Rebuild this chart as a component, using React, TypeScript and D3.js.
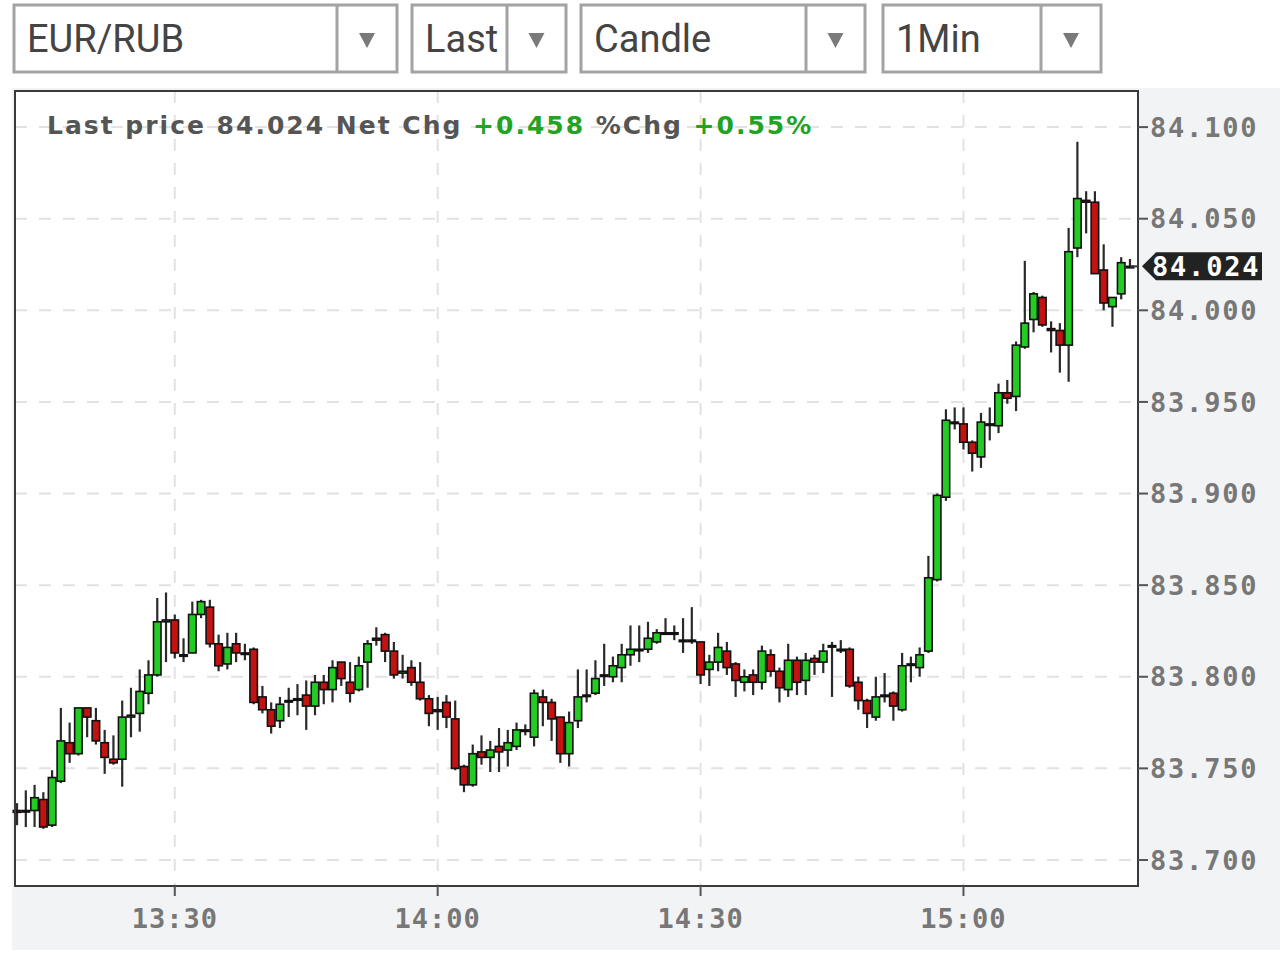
import React from "react";
import * as d3 from "d3";

// 1-minute EUR/RUB candles, first one at 13:12
const START = new Date(2024, 0, 1, 13, 12);

const opens = [
  83.727, 83.727, 83.727, 83.733, 83.719, 83.743, 83.764, 83.758, 83.783, 83.776,
  83.764, 83.755, 83.755, 83.778, 83.780, 83.791, 83.801, 83.830, 83.831, 83.812,
  83.813, 83.834, 83.838, 83.818, 83.807, 83.818, 83.813, 83.815, 83.789, 83.782,
  83.776, 83.787, 83.788, 83.790, 83.784, 83.797, 83.793, 83.808, 83.797, 83.793,
  83.808, 83.821, 83.823, 83.814, 83.802, 83.805, 83.797, 83.788, 83.782, 83.786,
  83.777, 83.751, 83.741, 83.759, 83.756, 83.762, 83.760, 83.762, 83.771, 83.767,
  83.789, 83.786, 83.778, 83.758, 83.776, 83.790, 83.791, 83.801, 83.800, 83.805,
  83.812, 83.815, 83.815, 83.819, 83.824, 83.824, 83.820, 83.820, 83.819, 83.804,
  83.808, 83.814, 83.807, 83.797, 83.801, 83.797, 83.812, 83.803, 83.793, 83.809,
  83.798, 83.810, 83.808, 83.817, 83.815, 83.815, 83.797, 83.787, 83.778, 83.790,
  83.791, 83.782, 83.807, 83.805, 83.814, 83.853, 83.898, 83.939, 83.938, 83.928,
  83.920, 83.938, 83.937, 83.955, 83.953, 83.980, 83.995, 84.007, 83.990, 83.989,
  83.981, 84.034, 84.060, 84.059, 84.022, 84.002, 84.009, 84.024,
];
const highs = [
  83.731, 83.738, 83.741, 83.737, 83.749, 83.783, 83.775, 83.783, 83.783, 83.783,
  83.771, 83.768, 83.787, 83.794, 83.804, 83.809, 83.843, 83.846, 83.834, 83.821,
  83.841, 83.842, 83.842, 83.823, 83.824, 83.824, 83.818, 83.816, 83.795, 83.786,
  83.789, 83.794, 83.796, 83.798, 83.801, 83.801, 83.809, 83.808, 83.808, 83.811,
  83.820, 83.827, 83.824, 83.819, 83.812, 83.809, 83.808, 83.790, 83.789, 83.790,
  83.787, 83.752, 83.763, 83.768, 83.765, 83.772, 83.771, 83.775, 83.774, 83.793,
  83.793, 83.788, 83.778, 83.781, 83.804, 83.804, 83.809, 83.818, 83.811, 83.818,
  83.828, 83.828, 83.830, 83.826, 83.832, 83.828, 83.832, 83.838, 83.819, 83.812,
  83.824, 83.819, 83.808, 83.804, 83.804, 83.817, 83.815, 83.805, 83.818, 83.811,
  83.813, 83.812, 83.818, 83.819, 83.820, 83.816, 83.800, 83.788, 83.800, 83.802,
  83.792, 83.813, 83.811, 83.816, 83.866, 83.900, 83.946, 83.947, 83.947, 83.929,
  83.944, 83.947, 83.960, 83.962, 83.983, 84.027, 84.010, 84.008, 83.994, 83.993,
  84.045, 84.092, 84.065, 84.065, 84.036, 84.007, 84.029, 84.028,
];
const lows = [
  83.719, 83.718, 83.718, 83.717, 83.718, 83.742, 83.753, 83.757, 83.767, 83.763,
  83.747, 83.752, 83.740, 83.767, 83.770, 83.785, 83.800, 83.808, 83.810, 83.808,
  83.813, 83.832, 83.816, 83.803, 83.804, 83.808, 83.809, 83.785, 83.780, 83.769,
  83.772, 83.778, 83.779, 83.771, 83.779, 83.785, 83.786, 83.795, 83.786, 83.792,
  83.794, 83.817, 83.808, 83.799, 83.799, 83.795, 83.787, 83.773, 83.771, 83.772,
  83.749, 83.737, 83.740, 83.752, 83.748, 83.748, 83.751, 83.760, 83.768, 83.762,
  83.773, 83.765, 83.753, 83.751, 83.772, 83.786, 83.790, 83.795, 83.797, 83.797,
  83.806, 83.808, 83.813, 83.818, 83.823, 83.820, 83.813, 83.818, 83.796, 83.795,
  83.803, 83.801, 83.789, 83.792, 83.790, 83.793, 83.800, 83.786, 83.789, 83.790,
  83.790, 83.801, 83.802, 83.789, 83.813, 83.794, 83.782, 83.772, 83.776, 83.786,
  83.776, 83.781, 83.797, 83.800, 83.813, 83.852, 83.896, 83.935, 83.924, 83.912,
  83.914, 83.929, 83.933, 83.949, 83.945, 83.979, 83.988, 83.991, 83.977, 83.966,
  83.961, 84.029, 84.042, 84.020, 84.000, 83.991, 84.006, 84.024,
];
const closes = [
  83.726, 83.727, 83.734, 83.718, 83.745, 83.765, 83.758, 83.783, 83.778, 83.765,
  83.756, 83.753, 83.778, 83.779, 83.792, 83.801, 83.830, 83.831, 83.813, 83.812,
  83.834, 83.841, 83.818, 83.806, 83.816, 83.813, 83.813, 83.786, 83.782, 83.773,
  83.785, 83.787, 83.788, 83.784, 83.797, 83.793, 83.805, 83.799, 83.791, 83.806,
  83.818, 83.820, 83.814, 83.801, 83.803, 83.797, 83.788, 83.780, 83.781, 83.778,
  83.750, 83.741, 83.758, 83.756, 83.760, 83.759, 83.764, 83.771, 83.771, 83.791,
  83.786, 83.777, 83.758, 83.775, 83.789, 83.790, 83.799, 83.801, 83.806, 83.812,
  83.815, 83.815, 83.821, 83.824, 83.824, 83.824, 83.820, 83.820, 83.801, 83.808,
  83.816, 83.805, 83.798, 83.800, 83.797, 83.814, 83.803, 83.794, 83.809, 83.797,
  83.809, 83.808, 83.814, 83.817, 83.815, 83.795, 83.787, 83.780, 83.789, 83.790,
  83.784, 83.806, 83.807, 83.812, 83.854, 83.899, 83.940, 83.939, 83.928, 83.922,
  83.939, 83.938, 83.955, 83.952, 83.981, 83.993, 84.009, 83.992, 83.989, 83.981,
  84.032, 84.061, 84.059, 84.020, 84.004, 84.007, 84.026, 84.024,
];

const priceTicks = [83.7, 83.75, 83.8, 83.85, 83.9, 83.95, 84.0, 84.05, 84.1];
const lastPrice = 84.024;
const netChg = "+0.458";
const pctChg = "+0.55%";

const selectorLabels = ["EUR/RUB", "Last", "Candle", "1Min"];

const W = 1280;
const H = 953;
const plot = { left: 15, right: 1138, top: 91, bottom: 886 };

const GREEN = "#22cc22";
const RED = "#c31212";
const axisFont = "'DejaVu Sans Mono', monospace";

export default function App() {
  const candles = opens.map((o, i) => ({
    t: d3.timeMinute.offset(START, i),
    o,
    h: highs[i],
    l: lows[i],
    c: closes[i],
  }));

  const x = d3
    .scaleTime()
    .domain([new Date(2024, 0, 1, 13, 11, 46), new Date(2024, 0, 1, 15, 19, 55)])
    .range([plot.left, plot.right]);

  const y = d3.scaleLinear().domain([83.6858, 84.1197]).range([plot.bottom, plot.top]);

  const timeTicks = x.ticks(d3.timeMinute.every(30) as d3.TimeInterval);
  const fmtTime = d3.timeFormat("%H:%M");
  const bodyW = 7.5;

  // dropdown boxes: [left, right, divider]
  const boxes = [
    [14, 397, 337],
    [412, 566, 507],
    [581, 865, 806],
    [883, 1101, 1041],
  ];

  const lastY = y(lastPrice);

  return (
    <svg
      width={W}
      height={H}
      style={{ position: "absolute", left: 0, top: 0, background: "#fff" }}
    >
      {/* selectors */}
      {boxes.map(([x0, x1, dv], i) => (
        <g key={i}>
          <rect x={x0} y={5} width={x1 - x0} height={67} fill="#fff" stroke="#a3a3a3" strokeWidth={3} />
          <line x1={dv} x2={dv} y1={5} y2={72} stroke="#a3a3a3" strokeWidth={3} />
          <text
            x={x0 + 13}
            y={52}
            fontFamily="Roboto, sans-serif"
            fontSize={38}
            fill="#444"
          >
            {selectorLabels[i]}
          </text>
          <path
            d={`M${(dv + x1) / 2 - 8},${33} L${(dv + x1) / 2 + 8},${33} L${(dv + x1) / 2},${48} Z`}
            fill="#7a7a7a"
          />
        </g>
      ))}

      {/* chart panel background */}
      <rect x={12} y={88} width={W - 12} height={862} fill="#f2f3f5" />
      <rect
        x={plot.left}
        y={plot.top}
        width={plot.right - plot.left}
        height={plot.bottom - plot.top}
        fill="#fff"
      />

      {/* grid */}
      {priceTicks.map((p) => (
        <line
          key={p}
          x1={plot.left}
          x2={plot.right}
          y1={y(p)}
          y2={y(p)}
          stroke="#e2e2e2"
          strokeWidth={2}
          strokeDasharray="12,12"
        />
      ))}
      {timeTicks.map((t) => (
        <line
          key={+t}
          x1={x(t)}
          x2={x(t)}
          y1={plot.top}
          y2={plot.bottom}
          stroke="#e2e2e2"
          strokeWidth={2}
          strokeDasharray="12,12"
        />
      ))}

      {/* candles */}
      {candles.map((d, i) => {
        const cx = x(d.t);
        const top = y(Math.max(d.o, d.c));
        const bot = y(Math.min(d.o, d.c));
        const fill = d.c > d.o ? GREEN : d.c < d.o ? RED : "#222";
        return (
          <g key={i}>
            <line x1={cx} x2={cx} y1={y(d.h)} y2={y(d.l)} stroke="#2a2a2a" strokeWidth={2.2} />
            <rect
              x={cx - bodyW / 2}
              y={top}
              width={bodyW}
              height={Math.max(bot - top, 1.5)}
              fill={fill}
              stroke="#111"
              strokeWidth={1.6}
            />
          </g>
        );
      })}
      {/* last-price tick */}
      <line x1={x(candles[candles.length - 1].t)} x2={plot.right} y1={lastY} y2={lastY} stroke="#333" strokeWidth={2} />

      {/* frame */}
      <rect
        x={plot.left}
        y={plot.top}
        width={plot.right - plot.left}
        height={plot.bottom - plot.top}
        fill="none"
        stroke="#3a3a3a"
        strokeWidth={2}
      />

      {/* header */}
      <text
        x={47}
        y={134}
        fontFamily="'DejaVu Sans', sans-serif"
        fontWeight="bold"
        fontSize={25}
        fill="#555"
        letterSpacing={2}
      >
        {"Last price " + lastPrice.toFixed(3) + " Net Chg "}
        <tspan fill="#22a322">{netChg}</tspan>
        {" %Chg "}
        <tspan fill="#22a322">{pctChg}</tspan>
      </text>

      {/* y axis */}
      {priceTicks.map((p) => (
        <g key={p} transform={`translate(${plot.right},${y(p)})`}>
          <line x1={0} x2={10} stroke="#555" strokeWidth={2} />
          <text
            x={12}
            dy="0.36em"
            fontFamily={axisFont}
            fontWeight="bold"
            fontSize={27}
            letterSpacing={1.8}
            fill="#777"
          >
            {p.toFixed(3)}
          </text>
        </g>
      ))}

      {/* last-price tag */}
      <path
        d={`M${plot.right + 4},${lastY} L${plot.right + 18},${lastY - 14} L${W - 18},${lastY - 14} L${W - 18},${lastY + 14} L${plot.right + 18},${lastY + 14} Z`}
        fill="#222"
      />
      <text
        x={plot.right + 14}
        y={lastY}
        dy="0.36em"
        fontFamily={axisFont}
        fontWeight="bold"
        fontSize={27}
        letterSpacing={1.8}
        fill="#fff"
      >
        {lastPrice.toFixed(3)}
      </text>

      {/* x axis */}
      {timeTicks.map((t) => (
        <g key={+t} transform={`translate(${x(t)},${plot.bottom})`}>
          <line y1={0} y2={10} stroke="#555" strokeWidth={2} />
          <text
            y={42}
            textAnchor="middle"
            fontFamily={axisFont}
            fontWeight="bold"
            fontSize={27}
            letterSpacing={1}
            fill="#777"
          >
            {fmtTime(t)}
          </text>
        </g>
      ))}
    </svg>
  );
}
